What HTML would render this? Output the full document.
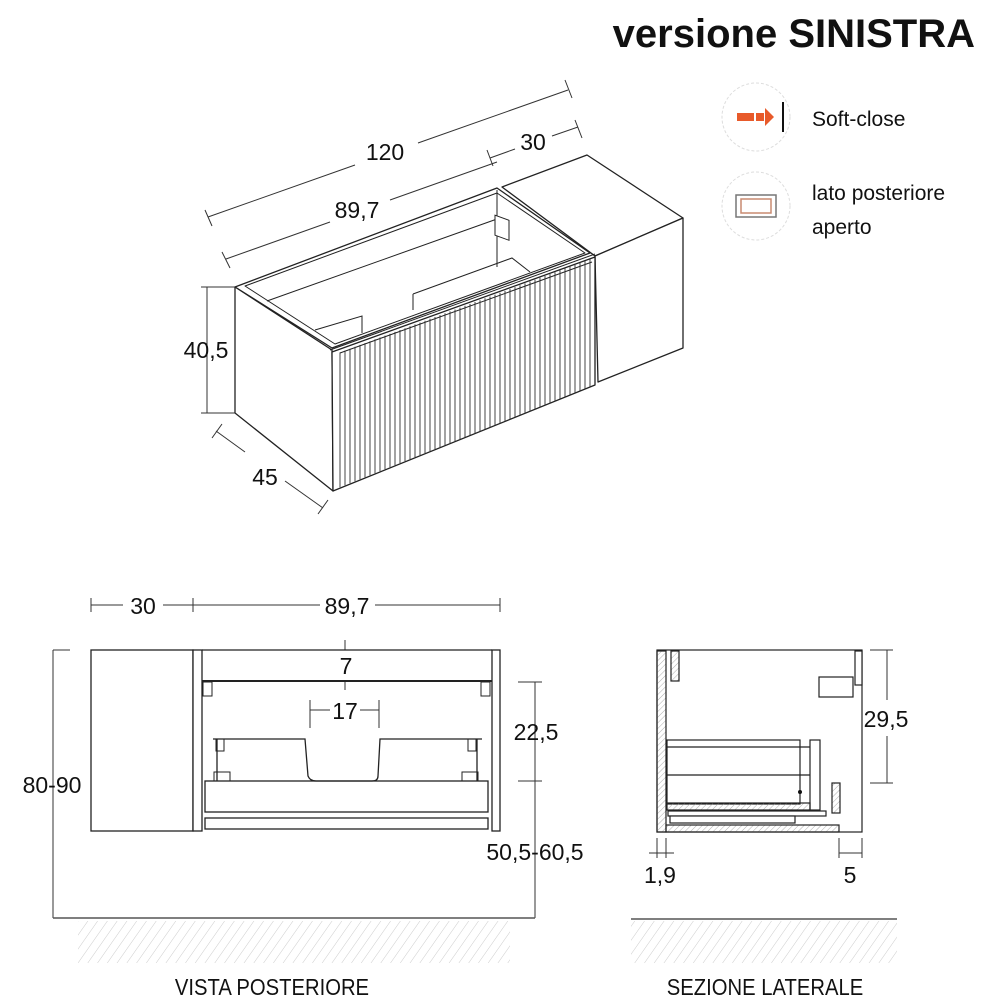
<!DOCTYPE html>
<html><head><meta charset="utf-8"><style>
html,body{margin:0;padding:0;background:#fff}
svg{display:block}
text{font-family:"Liberation Sans",sans-serif;fill:#111}
</style></head><body>
<svg width="1000" height="1000" viewBox="0 0 1000 1000" xmlns="http://www.w3.org/2000/svg">
<defs>
<pattern id="h" width="8" height="8" patternUnits="userSpaceOnUse" patternTransform="rotate(35)">
<line x1="0" y1="0" x2="0" y2="8" stroke="#ccc" stroke-width="1"/></pattern>
<pattern id="h2" width="4" height="4" patternUnits="userSpaceOnUse" patternTransform="rotate(45)">
<line x1="0" y1="0" x2="0" y2="4" stroke="#999" stroke-width="0.8"/></pattern>
</defs>
<text x="975" y="47" text-anchor="end" font-size="40" font-weight="bold">versione SINISTRA</text>

<!-- icons -->
<circle cx="756" cy="117" r="34" fill="none" stroke="#ddd" stroke-width="1" stroke-dasharray="3 2"/>
<rect x="737" y="113" width="17" height="8" fill="#e85a2a"/>
<rect x="756" y="113" width="8" height="8" fill="#e85a2a"/>
<polygon points="765,108 774,117 765,126" fill="#e85a2a"/>
<line x1="783" y1="102" x2="783" y2="132" stroke="#111" stroke-width="2"/>
<text x="812" y="126" font-size="21">Soft-close</text>
<circle cx="756" cy="206" r="34" fill="none" stroke="#ddd" stroke-width="1" stroke-dasharray="3 2"/>
<rect x="736" y="195" width="40" height="22" fill="none" stroke="#777" stroke-width="1.5"/>
<rect x="741" y="199" width="30" height="14" fill="none" stroke="#c98a70" stroke-width="1.5"/>
<text x="812" y="200" font-size="21">lato posteriore</text>
<text x="812" y="234" font-size="21">aperto</text>

<!-- top dims -->
<g stroke="#333" stroke-width="1" fill="none">
<path d="M208,217 L355,165 M418,143 L568,90 M205,210 L212,226 M565,80 L572,98"/>
<path d="M226,259 L330,222 M390,200 L497,162 M222,252 L230,268 M487,150 L493,166"/>
<path d="M490,158 L515,149 M552,136 L578,127 M575,120 L582,138"/>
<path d="M207,287 L207,413 M201,287 L213,287 M201,413 L244,413 M201,287 L244,287"/>
<path d="M216,431 L245,452 M285,481 L323,508 M212,438 L222,424 M318,514 L328,500"/>
</g>
<text x="385" y="160" font-size="23" text-anchor="middle">120</text>
<text x="533" y="150" font-size="23" text-anchor="middle">30</text>
<text x="357" y="218" font-size="23" text-anchor="middle">89,7</text>
<text x="206" y="358" font-size="23" text-anchor="middle">40,5</text>
<text x="265" y="485" font-size="23" text-anchor="middle">45</text>

<!-- isometric cabinet -->
<g stroke="#222" stroke-width="1.3" fill="#fff" stroke-linejoin="round">
<polygon points="235,287 497,188 590,253 332,348"/>
<polygon points="245,286 497,193 585,253 335,344" fill="#fff" stroke-width="1"/>
<polygon points="502,187 587,155 683,218 595,256"/>
<polygon points="595,256 683,218 683,348 598,382"/>
<polygon points="235,287 332,350 333,491 235,413"/>
<polygon points="332,352 595,257 595,385 333,491"/>
</g>
<g stroke="#222" stroke-width="1" fill="none">
<path d="M267,301 L497,219 L497,267 M497,190 L497,219"/>
<path d="M315,330 L362,316 L362,333 M413,294 L512,258 L530,272 M413,294 L413,310"/>
<path d="M330,350 L595,254 M340,353 L592,262"/>
<rect x="495" y="212" width="14" height="20" transform="skewY(20) translate(0,-177)" fill="#fff"/>
</g>
<path stroke="#333" stroke-width="0.9" fill="none" d="M340,352.4L340,487.2M345,350.5L345,485.2M350,348.7L350,483.2M355,346.8L355,481.2M360,344.9L360,479.2M365,343.1L365,477.2M370,341.2L370,475.2M375,339.3L375,473.2M380,337.5L380,471.2M385,335.6L385,469.2M390,333.7L390,467.2M395,331.9L395,465.2M400,330L400,463.2M405,328.2L405,461.2M410,326.3L410,459.2M415,324.4L415,457.2M420,322.6L420,455.2M425,320.7L425,453.2M430,318.8L430,451.2M435,317L435,449.2M440,315.1L440,447.2M445,313.2L445,445.2M450,311.4L450,443.2M455,309.5L455,441.2M460,307.6L460,439.2M465,305.8L465,437.2M470,303.9L470,435.2M475,302L475,433.2M480,300.2L480,431.2M485,298.3L485,429.2M490,296.5L490,427.2M495,294.6L495,425.2M500,292.7L500,423.2M505,290.9L505,421.2M510,289L510,419.2M515,287.1L515,417.2M520,285.3L520,415.2M525,283.4L525,413.2M530,281.5L530,411.2M535,279.7L535,409.2M540,277.8L540,407.2M545,275.9L545,405.2M550,274.1L550,403.2M555,272.2L555,401.2M560,270.3L560,399.2M565,268.5L565,397.2M570,266.6L570,395.2M575,264.7L575,393.2M580,262.9L580,391.2M585,261L585,389.2M590,259.1L590,387.2"/>

<!-- rear view -->
<g stroke="#333" stroke-width="1" fill="none">
<path d="M91,605 L123,605 M163,605 L193,605 L320,605 M375,605 L500,605 M91,598 L91,612 M193,598 L193,612 M500,598 L500,612"/>
<path d="M53,650 L53,918 M53,650 L70,650 M53,918 L535,918 M535,682 L535,918 M518,682 L542,682 M518,781 L542,781"/>
<path d="M345,640 L345,650 M345,681 L345,690 M310,700 L310,728 M379,700 L379,728 M310,710 L330,710 M360,710 L379,710"/>
</g>
<text x="143" y="614" font-size="23" text-anchor="middle">30</text>
<text x="347" y="614" font-size="23" text-anchor="middle">89,7</text>
<text x="346" y="674" font-size="23" text-anchor="middle">7</text>
<text x="345" y="719" font-size="23" text-anchor="middle">17</text>
<text x="536" y="740" font-size="23" text-anchor="middle">22,5</text>
<text x="535" y="860" font-size="23" text-anchor="middle">50,5-60,5</text>
<text x="52" y="793" font-size="23" text-anchor="middle">80-90</text>
<g stroke="#222" stroke-width="1.3" fill="#fff">
<rect x="91" y="650" width="102" height="181"/>
<rect x="193" y="650" width="9" height="181"/>
<rect x="492" y="650" width="8" height="181"/>
<line x1="202" y1="650" x2="492" y2="650"/>
<line x1="202" y1="681" x2="492" y2="681" stroke-width="2"/>
<rect x="205" y="781" width="283" height="31"/>
<rect x="205" y="818" width="283" height="11"/>
<path d="M213,739 L305,739 L308,776 Q310,781 316,781 L372,781 Q378,781 378,776 L380,739 L482,739" fill="none"/>
<path d="M217,739 L217,781 M477,739 L477,781" fill="none"/>
<rect x="203" y="682" width="9" height="14" fill="none" stroke-width="1"/>
<rect x="481" y="682" width="9" height="14" fill="none" stroke-width="1"/>
<rect x="216" y="739" width="8" height="12" fill="none" stroke-width="1"/>
<rect x="468" y="739" width="8" height="12" fill="none" stroke-width="1"/>
<rect x="214" y="772" width="16" height="9" fill="none" stroke-width="1"/>
<rect x="462" y="772" width="16" height="9" fill="none" stroke-width="1"/>
</g>
<line x1="53" y1="918" x2="535" y2="918" stroke="#555" stroke-width="1.5"/>
<rect x="78" y="921" width="432" height="42" fill="url(#h)"/>
<text x="272" y="995" font-size="23" text-anchor="middle" transform="translate(272 0) scale(0.88 1) translate(-272 0)">VISTA POSTERIORE</text>

<!-- side section -->
<g stroke="#222" stroke-width="1.2" fill="#fff">
<rect x="657" y="650" width="205" height="182"/>
<rect x="657" y="651" width="9" height="181" fill="url(#h2)"/>
<rect x="666" y="825" width="173" height="7" fill="url(#h2)"/>
<rect x="671" y="651" width="8" height="30" fill="url(#h2)"/>
<rect x="855" y="651" width="7" height="34"/>
<rect x="819" y="677" width="34" height="20"/>
<rect x="667" y="740" width="133" height="64" fill="none"/>
<line x1="667" y1="747" x2="810" y2="747"/>
<line x1="667" y1="775" x2="810" y2="775"/>
<rect x="810" y="740" width="10" height="70"/>
<rect x="667" y="803" width="143" height="7" fill="url(#h2)"/>
<rect x="668" y="811" width="158" height="5"/>
<rect x="670" y="816" width="125" height="7"/>
<rect x="832" y="783" width="8" height="30" fill="url(#h2)"/>
</g>
<circle cx="800" cy="792" r="2" fill="#111"/>
<g stroke="#333" stroke-width="1" fill="none">
<path d="M887,650 L887,700 M887,736 L887,783 M870,650 L893,650 M870,783 L893,783"/>
<path d="M657,838 L657,858 M666,838 L666,858 M649,853 L674,853"/>
<path d="M839,838 L839,858 M862,838 L862,858 M839,853 L862,853"/>
</g>
<text x="886" y="727" font-size="23" text-anchor="middle">29,5</text>
<text x="660" y="883" font-size="23" text-anchor="middle">1,9</text>
<text x="850" y="883" font-size="23" text-anchor="middle">5</text>
<line x1="631" y1="919" x2="897" y2="919" stroke="#555" stroke-width="1.5"/>
<rect x="631" y="921" width="266" height="42" fill="url(#h)"/>
<text x="765" y="995" font-size="23" text-anchor="middle" transform="translate(765 0) scale(0.88 1) translate(-765 0)">SEZIONE LATERALE</text>
</svg>
</body></html>
